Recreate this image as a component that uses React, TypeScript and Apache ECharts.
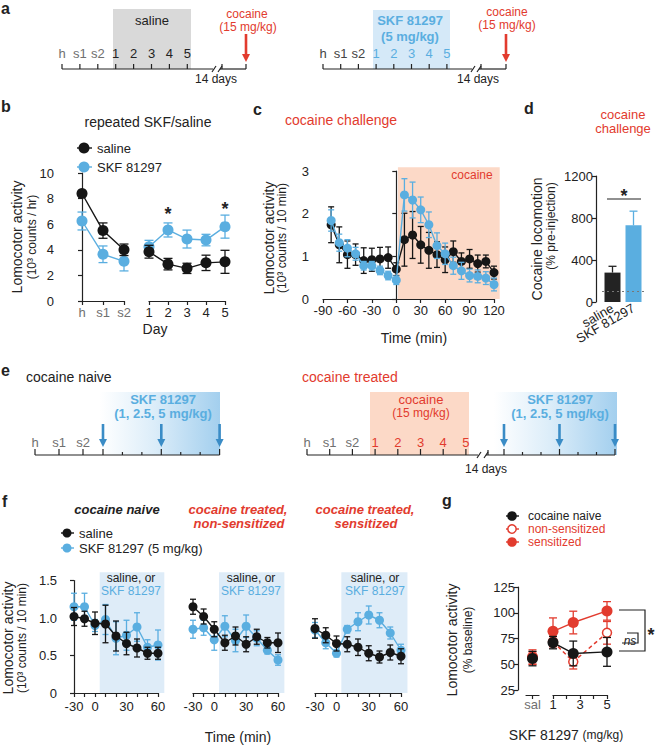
import React, { useEffect, useRef } from "react";
import * as echarts from "echarts";

const FONT = '"Liberation Sans", Arial, Helvetica, sans-serif';
const BLACK = "#161616";
const BLUE = "#5aaee0";
const RED = "#e23b2e";
const GRAY = "#707070";
const AX = "#222";
const PEACH = "#fcd9c7";
const LIGHTBLUE = "#deecf8";
const ARROWBLUE = "#3a8cc6";

// ---------- Panel a / e timeline labels ----------
const aLabels = ["h", "s1", "s2", "1", "2", "3", "4", "5"];
const eNaiveLabels = ["h", "s1", "s2"];
const eTreatedLabels = ["h", "s1", "s2", "1", "2", "3", "4", "5"];
const eDoseArrows = ["1", "2.5", "5"];

// ---------- Panel b ----------
const bBaseLabels = ["h", "s1", "s2"];
const bBaseX = [0, 1, 2];
const bDays = [1, 2, 3, 4, 5];
const bSalBase = [8.4, 5.5, 4.0];
const bSalBaseErr = [0.15, 0.6, 0.45];
const bSkfBase = [6.25, 3.65, 3.1];
const bSkfBaseErr = [0.7, 0.65, 0.75];
const bSalDays = [3.85, 2.88, 2.55, 2.98, 3.06];
const bSalDaysErr = [0.5, 0.45, 0.4, 0.6, 0.9];
const bSkfDays = [4.24, 5.55, 4.84, 4.76, 5.81];
const bSkfDaysErr = [0.5, 0.55, 0.7, 0.45, 0.9];

// ---------- Panel c ----------
const cTimes = [-80, -70, -60, -50, -40, -30, -20, -10, 0, 10, 20, 30, 40, 50, 60, 70, 80, 90, 100, 110, 120];
const cSkf = [1.84, 1.32, 1.19, 1.06, 0.78, 0.78, 0.67, 0.55, 0.44, 2.44, 2.32, 2.09, 1.74, 1.25, 1.06, 0.78, 0.66, 0.55, 0.53, 0.49, 0.34];
const cSkfErr = [0.25, 0.2, 0.2, 0.15, 0.1, 0.1, 0.1, 0.1, 0.1, 0.38, 0.42, 0.3, 0.3, 0.3, 0.25, 0.2, 0.2, 0.15, 0.15, 0.15, 0.15];
const cSal = [1.74, 1.27, 1.04, 1.04, 0.9, 0.92, 0.94, 0.97, 0.7, 1.39, 1.5, 1.27, 1.14, 1.04, 0.92, 1.11, 0.88, 0.94, 0.83, 0.88, 0.62];
const cSalErr = [0.42, 0.42, 0.32, 0.25, 0.3, 0.27, 0.27, 0.25, 0.15, 0.62, 0.55, 0.43, 0.42, 0.3, 0.3, 0.25, 0.2, 0.22, 0.2, 0.15, 0.15];
const cCocaineWindow = [2, 127, 3.09];

// ---------- Panel d ----------
const dGroups = ["saline", "SKF 81297"];
const dMeans = [280, 730];
const dErr = [60, 135];
const dBaseline = 100;

// ---------- Panel f ----------
const fTickLabels = ["-30", "", "0", "", "", "30", "", "", "60"];
const fX = [0, 1, 2, 3, 4, 5, 6, 7, 8];
const fNaiveSal = [1.02, 0.99, 0.93, 0.92, 0.76, 0.66, 0.6, 0.53, 0.53];
const fNaiveSalErr = [0.12, 0.1, 0.15, 0.25, 0.2, 0.15, 0.12, 0.08, 0.08];
const fNaiveSkf = [1.15, 1.15, 0.9, 0.98, 0.73, 0.77, 0.88, 0.61, 0.64];
const fNaiveSkfErr = [0.18, 0.18, 0.08, 0.2, 0.22, 0.2, 0.19, 0.1, 0.2];
const fNonSal = [1.15, 1.02, 0.85, 0.67, 0.76, 0.65, 0.75, 0.67, 0.67];
const fNonSalErr = [0.1, 0.1, 0.1, 0.1, 0.12, 0.1, 0.1, 0.07, 0.13];
const fNonSkf = [0.85, 0.87, 0.71, 0.89, 0.7, 0.89, 0.73, 0.57, 0.44];
const fNonSkfErr = [0.12, 0.1, 0.14, 0.14, 0.15, 0.15, 0.1, 0.05, 0.07];
const fSensSal = [0.86, 0.77, 0.66, 0.65, 0.61, 0.53, 0.48, 0.54, 0.49];
const fSensSalErr = [0.13, 0.1, 0.1, 0.1, 0.11, 0.1, 0.08, 0.1, 0.1];
const fSensSkf = [0.84, 0.67, 0.53, 0.85, 0.95, 1.04, 0.97, 0.8, 0.57];
const fSensSkfErr = [0.1, 0.08, 0.05, 0.05, 0.12, 0.12, 0.1, 0.08, 0.08];
const fInjectionWindow = [2.45, 8.6, 1.61];

// ---------- Panel g ----------
const gSalCat = ["sal"];
const gDoses = [1, 2.5, 5];
const gNaiveSal = 55.5, gNaiveSalErr = 7;
const gSensSal = 57, gSensSalErr = 7;
const gNonSal = 56, gNonSalErr = 6;
const gNaive = [71, 60.5, 62];
const gNaiveErr = [6, 12, 14];
const gSens = [82, 90.5, 101.8];
const gSensErr = [13, 11, 9];
const gNon = [72, 52.4, 80.5];
const gNonErr = [5, 7, 11];

function errS(ax: number, xs: number[], ys: number[], errs: number[], color: string, cap: number, z: number, upOnly = false): any {
  return {
    type: "custom", xAxisIndex: ax, yAxisIndex: ax, z, silent: true, clip: false,
    data: xs.map((x, i) => [x, upOnly ? ys[i] : ys[i] - errs[i], ys[i] + errs[i]]),
    encode: { x: 0, y: [1, 2] },
    renderItem: (params: any, api: any) => {
      const top = api.coord([api.value(0), api.value(2)]);
      const bot = api.coord([api.value(0), api.value(1)]);
      const h = cap / 2;
      const st = { stroke: color, lineWidth: 1.3 };
      const children: any[] = [
        { type: "line", shape: { x1: top[0], y1: top[1], x2: bot[0], y2: bot[1] }, style: st },
        { type: "line", shape: { x1: top[0] - h, y1: top[1], x2: top[0] + h, y2: top[1] }, style: st },
      ];
      if (!upOnly) children.push({ type: "line", shape: { x1: bot[0] - h, y1: bot[1], x2: bot[0] + h, y2: bot[1] }, style: st });
      return { type: "group", children };
    },
  };
}

function lnS(ax: number, xs: any[], ys: number[], color: string, size: number, z: number, extra: any = {}): any {
  return {
    type: "line", xAxisIndex: ax, yAxisIndex: ax, z, silent: true, clip: false,
    data: xs.map((x, i) => [x, ys[i]]),
    symbol: "circle", symbolSize: size, showSymbol: true,
    lineStyle: { color, width: 1.4 },
    itemStyle: { color, borderWidth: 0 },
    emphasis: { disabled: true },
    ...extra,
  };
}

function shadeS(ax: number, win: number[], color: string): any {
  return {
    type: "custom", xAxisIndex: ax, yAxisIndex: ax, z: 1, silent: true, clip: false,
    data: [win],
    encode: { x: [0, 1], y: 2 },
    renderItem: (params: any, api: any) => {
      const a = api.coord([api.value(0), 0]);
      const b = api.coord([api.value(1), api.value(2)]);
      return { type: "rect", shape: { x: a[0], y: b[1], width: b[0] - a[0], height: a[1] - b[1] }, style: { fill: color } };
    },
  };
}

const axisBase = () => ({
  axisLine: { show: true, lineStyle: { color: AX, width: 1.2 } },
  axisTick: { show: true, length: 4, lineStyle: { color: AX, width: 1.2 } },
  axisLabel: { color: AX, fontSize: 13, fontFamily: FONT, margin: 3, formatter: (v: any) => String(v) },
  splitLine: { show: false },
});

function buildGraphic(): any[] {
  const G: any[] = [];
  const txt = (text: string, x: number, y: number, o: any = {}) =>
    G.push({
      type: "text", x, y, rotation: o.rot || 0, silent: true, z: 100,
      style: {
        text, fill: o.color || AX, fontSize: o.size || 13, fontWeight: o.bold ? "bold" : "normal",
        fontStyle: o.italic ? "italic" : "normal", fontFamily: FONT, align: o.align || "center",
        verticalAlign: "middle", rich: o.rich,
      },
    });
  const line = (x1: number, y1: number, x2: number, y2: number, color = AX, w = 1.2) =>
    G.push({ type: "line", silent: true, z: 100, shape: { x1, y1, x2, y2 }, style: { stroke: color, lineWidth: w } });
  const rect = (x: number, y: number, w: number, h: number, fill: any) =>
    G.push({ type: "rect", silent: true, z: 90, shape: { x, y, width: w, height: h }, style: { fill } });
  const arrow = (x: number, y1: number, y2: number, color: string) => {
    line(x, y1, x, y2 - 6, color, 2.6);
    G.push({ type: "polygon", silent: true, z: 100, shape: { points: [[x - 4, y2 - 8], [x + 4, y2 - 8], [x, y2]] }, style: { fill: color } });
  };
  const circ = (x: number, y: number, r: number, fill: string, stroke?: string) =>
    G.push({ type: "circle", silent: true, z: 100, shape: { cx: x, cy: y, r }, style: { fill, stroke: stroke || null, lineWidth: 1.5 } });
  const poly = (pts: number[][], color = AX) =>
    G.push({ type: "polyline", silent: true, z: 100, shape: { points: pts }, style: { stroke: color, lineWidth: 1.2, fill: null } });
  const grad = { type: "linear", x: 0, y: 0, x2: 1, y2: 0, colorStops: [{ offset: 0, color: "#ffffff" }, { offset: 0.45, color: "#dcedf9" }, { offset: 1, color: "#a3cfee" }] };

  // Panel letters
  txt("a", 1, 8, { bold: true, size: 16, align: "left" });
  txt("b", 1, 106, { bold: true, size: 16, align: "left" });
  txt("c", 253, 109, { bold: true, size: 16, align: "left" });
  txt("d", 524, 108, { bold: true, size: 16, align: "left" });
  txt("e", 1, 370, { bold: true, size: 16, align: "left" });
  txt("f", 2, 501, { bold: true, size: 16, align: "left" });
  txt("g", 442, 500, { bold: true, size: 16, align: "left" });

  // ---- Panel a, timeline 1 ----
  const a1x = aLabels.map((_, i) => 62 + i * 17.9);
  rect(113, 9, 78, 60, "#d9d9d9");
  txt("saline", 152, 20);
  aLabels.forEach((l, i) => txt(l, a1x[i], 53, { color: i < 3 ? GRAY : AX }));
  line(62, 69, 213, 69);
  a1x.forEach((x) => line(x, 64, x, 69));
  line(212, 72, 216, 66); line(218, 72, 222, 66);
  line(220, 69, 246, 69); line(222, 64, 222, 69); line(246, 64, 246, 69);
  arrow(246, 34, 62, RED);
  txt("cocaine", 247, 14, { color: RED, size: 12 });
  txt("(15 mg/kg)", 248, 27, { color: RED, size: 12 });
  txt("14 days", 216, 79, { size: 12 });

  // ---- Panel a, timeline 2 ----
  const a2x = aLabels.map((_, i) => 323 + i * 17.7);
  rect(373, 10, 77, 59, "#d5e9f8");
  txt("SKF 81297", 410, 20, { bold: true, color: BLUE });
  txt("(5 mg/kg)", 410, 36, { bold: true, color: BLUE });
  aLabels.forEach((l, i) => txt(l, a2x[i], 53, { color: i < 3 ? "#444" : BLUE }));
  line(323, 69, 472, 69);
  a2x.forEach((x) => line(x, 64, x, 69));
  line(471, 72, 475, 66); line(477, 72, 481, 66);
  line(479, 69, 506, 69); line(481, 64, 481, 69); line(506, 64, 506, 69);
  arrow(506, 34, 62, RED);
  txt("cocaine", 507, 12, { color: RED, size: 12 });
  txt("(15 mg/kg)", 507, 25, { color: RED, size: 12 });
  txt("14 days", 478, 79, { size: 12 });

  // ---- Panel b decorations ----
  txt("repeated SKF/saline", 148, 122, { size: 14 });
  line(77, 148, 92, 148, BLACK, 1.4); circ(84, 148, 5.5, BLACK);
  txt("saline", 97, 148, { align: "left" });
  line(77, 167, 92, 167, BLUE, 1.4); circ(84, 167, 5.5, BLUE);
  txt("SKF 81297", 97, 167, { align: "left" });
  txt("*", 168, 214, { size: 18, bold: true });
  txt("*", 225, 209, { size: 18, bold: true });
  txt("Lomocotor activity", 17, 237, { size: 14, rot: Math.PI / 2 });
  txt("(10³ counts / hr)", 32, 237, { size: 12, rot: Math.PI / 2 });
  txt("Day", 155, 329, { size: 14 });

  // ---- Panel c decorations ----
  txt("cocaine challenge", 341, 120, { size: 14, color: RED });
  txt("cocaine", 472, 175, { size: 12, color: RED });
  txt("Lomocotor activity", 269, 238, { size: 14, rot: Math.PI / 2 });
  txt("(10³ counts / 10 min)", 282, 238, { size: 12, rot: Math.PI / 2 });
  txt("Time (min)", 414, 338, { size: 14 });

  // ---- Panel d decorations ----
  txt("cocaine", 623, 114, { color: RED });
  txt("challenge", 623, 128, { color: RED });
  txt("Cocaine locomotion", 537, 239, { size: 14, rot: Math.PI / 2 });
  txt("(% pre-injection)", 551, 226, { size: 12, rot: Math.PI / 2 });
  line(607, 199, 641, 199);
  txt("*", 624, 196, { size: 18, bold: true });

  // ---- Panel e ----
  txt("cocaine naive", 26, 377, { size: 14, align: "left" });
  txt("cocaine treated", 302, 377, { size: 14, align: "left", color: RED });
  // timeline e1
  const e1x = eNaiveLabels.map((_, i) => 35 + i * 24);
  const e1a = eDoseArrows.map((_, i) => 103 + i * 58.3);
  rect(100, 392, 120, 63, grad);
  txt("SKF 81297", 163, 399, { bold: true, color: BLUE });
  txt("(1, 2.5, 5 mg/kg)", 163, 413, { bold: true, color: BLUE });
  eNaiveLabels.forEach((l, i) => txt(l, e1x[i], 442, { color: GRAY }));
  line(35, 455, e1a[2], 455);
  e1x.forEach((x) => line(x, 449, x, 455));
  e1a.forEach((x) => line(x, 449, x, 455));
  for (let k = 0; k < 2; k++) for (let j = 1; j < 3; j++) {
    const x = e1a[k] + ((e1a[k + 1] - e1a[k]) * j) / 3; line(x, 452, x, 455);
  }
  e1a.forEach((x) => arrow(x, 424, 447, ARROWBLUE));
  // timeline e2
  const e2x = eTreatedLabels.map((_, i) => 307 + i * 22.7);
  const e2a = eDoseArrows.map((_, i) => 504 + i * 55.5);
  rect(370, 392, 99, 63, PEACH);
  txt("cocaine", 421, 399, { color: RED });
  txt("(15 mg/kg)", 421, 413, { color: RED, size: 12 });
  eTreatedLabels.forEach((l, i) => txt(l, e2x[i], 442, { color: i < 3 ? GRAY : RED }));
  line(307, 455, 478, 455);
  e2x.forEach((x) => line(x, 449, x, 455));
  line(477, 458, 481, 452); line(484, 458, 488, 452);
  line(486, 455, e2a[2], 455); line(488, 450, 488, 455);
  rect(494, 392, 123, 63, grad);
  txt("SKF 81297", 560, 399, { bold: true, color: BLUE });
  txt("(1, 2.5, 5 mg/kg)", 560, 413, { bold: true, color: BLUE });
  e2a.forEach((x) => line(x, 449, x, 455));
  for (let k = 0; k < 2; k++) for (let j = 1; j < 3; j++) {
    const x = e2a[k] + ((e2a[k + 1] - e2a[k]) * j) / 3; line(x, 452, x, 455);
  }
  e2a.forEach((x) => arrow(x, 424, 447, ARROWBLUE));
  txt("14 days", 486, 469, { size: 12 });

  // ---- Panel f decorations ----
  txt("cocaine naive", 117, 509, { bold: true, italic: true });
  txt("cocaine treated,", 238, 509, { bold: true, italic: true, color: RED });
  txt("non-sensitized", 239, 523, { bold: true, italic: true, color: RED });
  txt("cocaine treated,", 365, 509, { bold: true, italic: true, color: RED });
  txt("sensitized", 366, 523, { bold: true, italic: true, color: RED });
  line(61, 533, 74, 533, BLACK, 1.4); circ(67, 533, 4.5, BLACK);
  txt("saline", 79, 533, { align: "left" });
  line(61, 548, 74, 548, BLUE, 1.4); circ(67, 548, 4.5, BLUE);
  txt("SKF 81297 (5 mg/kg)", 79, 548, { align: "left" });
  [131, 251, 375].forEach((cx) => {
    txt("saline, or", cx, 578, { size: 12 });
    txt("SKF 81297", cx, 591, { size: 12, color: BLUE });
  });
  txt("Lomocotor activity", 8, 638, { size: 14, rot: Math.PI / 2 });
  txt("(10³ counts / 10 min)", 22, 638, { size: 12, rot: Math.PI / 2 });
  txt("Time (min)", 238, 737, { size: 14 });

  // ---- Panel g decorations ----
  line(506, 516, 519, 516, BLACK, 1.4); circ(512, 516, 4.8, BLACK);
  txt("cocaine naive", 528, 516, { align: "left", size: 12 });
  line(506, 529, 519, 529, RED, 1.4); circ(512, 529, 4.2, "#fff", RED);
  txt("non-sensitized", 528, 529, { align: "left", color: RED, size: 12 });
  line(506, 542, 519, 542, RED, 1.4); circ(512, 542, 4.8, RED);
  txt("sensitized", 528, 542, { align: "left", color: RED, size: 12 });
  poly([[619, 610], [645, 610], [645, 651], [619, 651]]);
  poly([[627, 633], [638, 633], [638, 643], [622, 643]]);
  txt("ns", 630, 641, { italic: true, size: 12 });
  txt("*", 651, 635, { size: 18, bold: true });
  txt("Lomocotor activity", 452, 640, { size: 14, rot: Math.PI / 2 });
  txt("(% baseline)", 468, 640, { size: 12, rot: Math.PI / 2 });
  txt("{a|SKF 81297} {b|(mg/kg)}", 566, 735, {
    rich: { a: { fontSize: 14, fontFamily: FONT, fill: AX }, b: { fontSize: 12, fontFamily: FONT, fill: AX } },
  });
  return G;
}

function buildOption(): any {
  const grids = [
    { left: 82, top: 173, width: 42, height: 128 },
    { left: 149, top: 173, width: 76, height: 128 },
    { left: 323, top: 171, width: 171, height: 128 },
    { left: 602, top: 176, width: 42, height: 126 },
    { left: 74, top: 580.5, width: 84, height: 112.5 },
    { left: 193, top: 580.5, width: 85, height: 112.5 },
    { left: 315, top: 580.5, width: 86, height: 112.5 },
    { left: 526, top: 587, width: 13, height: 103 },
    { left: 553, top: 587, width: 54, height: 103 },
  ];
  const fx = (i: number) => {
    const b = axisBase();
    return { ...b, gridIndex: i, type: "value", min: 0, max: 8, interval: 1, offset: 4, position: "bottom",
      axisLabel: { ...b.axisLabel, formatter: (v: number) => fTickLabels[Math.round(v)] ?? "" } };
  };
  const xAxis: any[] = [
    (() => { const b = axisBase(); return { ...b, gridIndex: 0, type: "value", min: 0, max: 2, interval: 1, offset: 2, position: "bottom", axisLabel: { ...b.axisLabel, color: GRAY, formatter: (v: number) => bBaseLabels[Math.round(v)] ?? "" } }; })(),
    { ...axisBase(), gridIndex: 1, type: "value", min: 1, max: 5, interval: 1, offset: 2, position: "bottom" },
    { ...axisBase(), gridIndex: 2, type: "value", min: -90, max: 120, interval: 30, offset: 2, position: "bottom" },
    (() => { const b = axisBase(); return { ...b, gridIndex: 3, type: "category", data: dGroups, position: "bottom",
      axisLine: { show: false }, axisTick: { show: false },
      axisLabel: { color: AX, fontSize: 13, fontFamily: FONT, rotate: 30, margin: 5, interval: 0 } }; })(),
    fx(4), fx(5), fx(6),
    (() => { const b = axisBase(); return { ...b, gridIndex: 7, type: "category", data: gSalCat, boundaryGap: true, offset: 5, position: "bottom",
      axisTick: { ...b.axisTick, alignWithLabel: true }, axisLabel: { color: GRAY, fontSize: 13, fontFamily: FONT, margin: 3 } }; })(),
    (() => { const b = axisBase(); return { ...b, gridIndex: 8, type: "value", min: 1, max: 5, interval: 1, offset: 5, position: "bottom",
      axisLabel: { ...b.axisLabel, formatter: (v: number) => (v === 1 || v === 3 || v === 5 ? String(v) : "") } }; })(),
  ];
  const yAxis: any[] = [
    { ...axisBase(), gridIndex: 0, type: "value", min: 0, max: 10, interval: 2, offset: 25, position: "left" },
    { gridIndex: 1, type: "value", min: 0, max: 10, show: false },
    { ...axisBase(), gridIndex: 2, type: "value", min: 0, max: 3, interval: 1, offset: 11, position: "left" },
    { ...axisBase(), gridIndex: 3, type: "value", min: 0, max: 1200, interval: 400, offset: 6, position: "left" },
    (() => { const b = axisBase(); return { ...b, gridIndex: 4, type: "value", min: 0, max: 1.5, interval: 0.5, offset: 14, position: "left",
      axisLabel: { ...b.axisLabel, formatter: (v: number) => (v === 0 ? "0" : v.toFixed(1)) } }; })(),
    { gridIndex: 5, type: "value", min: 0, max: 1.5, show: false },
    { gridIndex: 6, type: "value", min: 0, max: 1.5, show: false },
    { ...axisBase(), gridIndex: 7, type: "value", min: 25, max: 125, interval: 25, offset: 8, position: "left" },
    { gridIndex: 8, type: "value", min: 25, max: 125, show: false },
  ];

  const S: any[] = [];
  // b
  S.push(errS(0, bBaseX, bSkfBase, bSkfBaseErr, BLUE, 9, 3));
  S.push(lnS(0, bBaseX, bSkfBase, BLUE, 11, 4));
  S.push(errS(0, bBaseX, bSalBase, bSalBaseErr, BLACK, 9, 5));
  S.push(lnS(0, bBaseX, bSalBase, BLACK, 11, 6));
  S.push(errS(1, bDays, bSkfDays, bSkfDaysErr, BLUE, 9, 3));
  S.push(lnS(1, bDays, bSkfDays, BLUE, 11, 4));
  S.push(errS(1, bDays, bSalDays, bSalDaysErr, BLACK, 9, 5));
  S.push(lnS(1, bDays, bSalDays, BLACK, 11, 6));
  // c
  S.push(shadeS(2, cCocaineWindow, PEACH));
  S.push(errS(2, cTimes, cSal, cSalErr, BLACK, 6, 3));
  S.push(lnS(2, cTimes, cSal, BLACK, 9, 4));
  S.push(errS(2, cTimes, cSkf, cSkfErr, BLUE, 6, 5));
  S.push(lnS(2, cTimes, cSkf, BLUE, 9, 6));
  // d
  S.push({
    type: "bar", xAxisIndex: 3, yAxisIndex: 3, barWidth: 16, z: 2, silent: true,
    data: dMeans.map((v, i) => ({ value: v, itemStyle: { color: i === 0 ? "#232323" : BLUE } })),
    markLine: { silent: true, symbol: "none", label: { show: false }, lineStyle: { color: "#777", type: [2, 3], width: 1 }, data: [{ yAxis: dBaseline }] },
  });
  S.push(errS(3, [0], [dMeans[0]], [dErr[0]], "#232323", 8, 3, true));
  S.push(errS(3, [1], [dMeans[1]], [dErr[1]], BLUE, 8, 3, true));
  // f
  const fSets = [
    [fNaiveSal, fNaiveSalErr, fNaiveSkf, fNaiveSkfErr],
    [fNonSal, fNonSalErr, fNonSkf, fNonSkfErr],
    [fSensSal, fSensSalErr, fSensSkf, fSensSkfErr],
  ];
  fSets.forEach((s, k) => {
    const ax = 4 + k;
    S.push(shadeS(ax, fInjectionWindow, LIGHTBLUE));
    S.push(errS(ax, fX, s[2], s[3], BLUE, 6, 3));
    S.push(lnS(ax, fX, s[2], BLUE, 9, 4));
    S.push(errS(ax, fX, s[0], s[1], BLACK, 6, 5));
    S.push(lnS(ax, fX, s[0], BLACK, 9, 6));
  });
  // g sal
  S.push(errS(7, [0], [gNonSal], [gNonSalErr], RED, 8, 2));
  S.push(lnS(7, [0], [gNonSal], RED, 9, 2, { itemStyle: { color: "#fff", borderColor: RED, borderWidth: 1.5 } }));
  S.push(errS(7, [0], [gSensSal], [gSensSalErr], RED, 8, 3));
  S.push(lnS(7, [0], [gSensSal], RED, 11, 4));
  S.push(errS(7, [0], [gNaiveSal], [gNaiveSalErr], BLACK, 8, 5));
  S.push(lnS(7, [0], [gNaiveSal], BLACK, 11, 6));
  // g doses
  S.push(errS(8, gDoses, gNon, gNonErr, RED, 8, 2));
  S.push(lnS(8, gDoses, gNon, RED, 9, 2, { lineStyle: { color: RED, width: 1.5, type: [4, 3] }, itemStyle: { color: "#fff", borderColor: RED, borderWidth: 1.5 } }));
  S.push(errS(8, gDoses, gSens, gSensErr, RED, 8, 3));
  S.push(lnS(8, gDoses, gSens, RED, 11, 4));
  S.push(errS(8, gDoses, gNaive, gNaiveErr, BLACK, 8, 5));
  S.push(lnS(8, gDoses, gNaive, BLACK, 11, 6));

  return {
    animation: false,
    backgroundColor: "#ffffff",
    textStyle: { fontFamily: FONT },
    grid: grids,
    xAxis,
    yAxis,
    series: S,
    graphic: { elements: buildGraphic() },
  };
}

export default function App() {
  const ref = useRef<HTMLDivElement>(null);
  useEffect(() => {
    document.body.style.margin = "0";
    const chart = echarts.init(ref.current as HTMLDivElement, null, { renderer: "svg" });
    chart.setOption(buildOption());
    return () => chart.dispose();
  }, []);
  return <div ref={ref} style={{ width: 656, height: 746 }} />;
}
